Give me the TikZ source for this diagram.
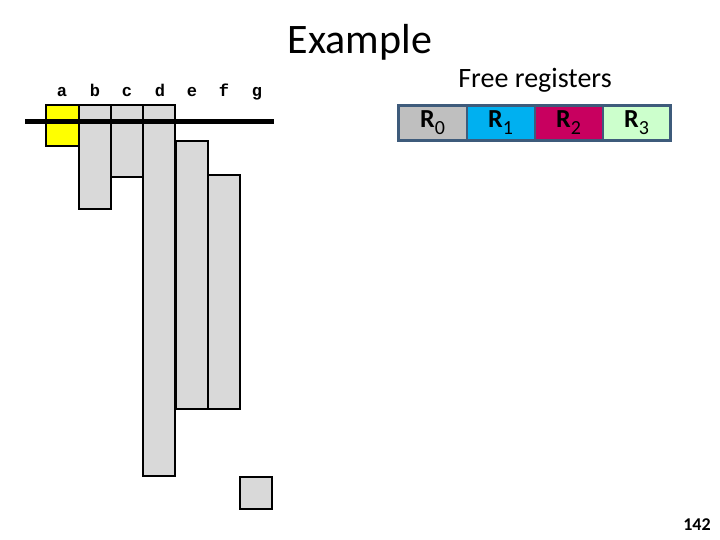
\documentclass[tikz,border=0pt]{standalone}
\usepackage{fontspec}
\setmainfont{Carlito}
\setmonofont{Liberation Mono}
\usepackage{tikz}
\usetikzlibrary{positioning}
\definecolor{livegray}{HTML}{D9D9D9}
\definecolor{liveyellow}{HTML}{FFFF00}
\definecolor{regframe}{HTML}{3E5B7B}
\definecolor{regzero}{HTML}{BFBFBF}
\definecolor{regone}{HTML}{00B0F0}
\definecolor{regtwo}{HTML}{C8005F}
\definecolor{regthree}{HTML}{CCFFCC}
\newcommand{\regsub}[1]{\raisebox{-7pt}{\fontsize{20}{20}\selectfont\mdseries #1}}
\begin{document}
\begin{tikzpicture}[
    x=1pt, y=-1pt,
    interval/.style={draw=black, line width=2.5pt, fill=livegray},
    active/.style={draw=black, line width=2.5pt, fill=liveyellow},
    varname/.style={font=\ttfamily\bfseries\fontsize{17}{17}\selectfont, anchor=base, inner sep=0pt},
    reg/.style={draw=regframe, line width=2pt, minimum width=68pt, minimum height=35pt, inner sep=0pt, outer sep=0pt, font=\fontsize{26}{26}\selectfont\bfseries},
    cursor/.style={line width=5pt, black}
]
\useasboundingbox (0,0) rectangle (720,540);

% Title
\node[font=\fontsize{42}{42}\selectfont] (title) at (360,42) {Example};

% Variable names
\foreach \name/\xpos in {a/62, b/95, c/127, d/160, e/192, f/224, g/257}
    \node[varname] (lbl\name) at (\xpos,97) {\name};

% Live intervals
\draw[interval] (79,105) rectangle (111,209);
\draw[interval] (111,105) rectangle (143,177);
\draw[interval] (143,105) rectangle (175,476);
\draw[interval] (176,141) rectangle (208,409);
\draw[interval] (208,175) rectangle (240,409);
\draw[interval] (240,477) rectangle (272,509);
\draw[active] (46,105) rectangle (79,146);

% Current position
\coordinate (scanL) at (25,122);
\coordinate (scanR) at (274,122);
\draw[cursor] (scanL) -- (scanR);

% Free registers
\node[font=\fontsize{28}{28}\selectfont] (freetitle) at (535,80) {Free registers};
\node[reg, fill=regzero] (r0) at (432.5,123) {R\regsub{0}};
\node[reg, fill=regone, right=0pt of r0] (r1) {R\regsub{1}};
\node[reg, fill=regtwo, right=0pt of r1] (r2) {R\regsub{2}};
\node[reg, fill=regthree, right=0pt of r2] (r3) {R\regsub{3}};
\draw[regframe, line width=3pt] (r0.north west) rectangle (r3.south east);

% Slide number
\node[font=\fontsize{18}{18}\selectfont\bfseries] (pagenum) at (697,525) {142};
\end{tikzpicture}
\end{document}
